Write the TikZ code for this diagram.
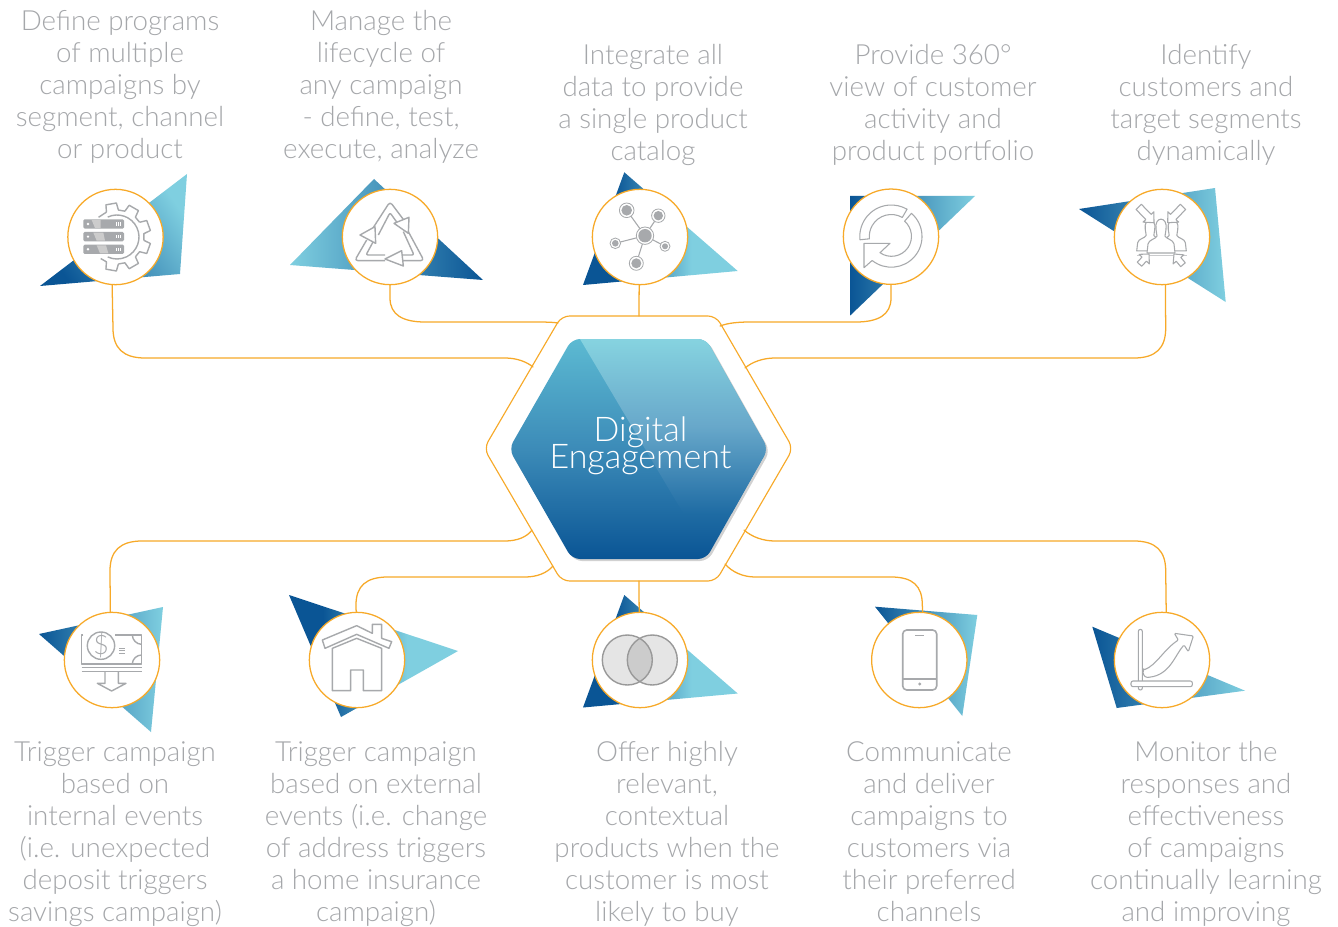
\documentclass[tikz,border=0pt]{standalone}
\usepackage{fontspec}
\setmainfont{Lato}[UprightFont=* Light]
\definecolor{tdark}{HTML}{0A5595}
\definecolor{tlight}{HTML}{7FCFE0}
\definecolor{orangeline}{HTML}{F7A928}
\definecolor{icongray}{HTML}{A7A9AC}
\definecolor{labelgray}{HTML}{A5A7AA}
\definecolor{HexTop}{HTML}{5CBAD2}
\definecolor{HexMid}{HTML}{3C8BB8}
\definecolor{HexBot}{HTML}{0A5595}
\definecolor{HexTopB}{HTML}{86D3E0}
\definecolor{HexMidB}{HTML}{68A8CA}
\definecolor{HexBotB}{HTML}{1F6CA4}
\pgfdeclareverticalshading{tribar}{100bp}{color(0bp)=(tdark);color(35bp)=(tdark);color(60bp)=(tlight);color(100bp)=(tlight)}
\newcommand\tightfont{\fontsize{25.5}{20.25}\selectfont\lineskiplimit=-30pt\relax}
\tikzset{
  conn/.style={draw=orangeline,line width=0.95pt,line cap=round},
  ringnode/.style={circle,draw=orangeline,fill=white,line width=0.95pt,minimum size=71.5pt,inner sep=0pt},
  ico/.style={draw=icongray,line width=1.05pt,line join=round},
  icothin/.style={ico,line width=.8pt},
  lbl/.style={align=center,text=labelgray,font=\fontsize{20.8}{24}\selectfont,inner sep=0pt,execute at begin node=\strut,execute at end node=\strut}
}
\newcommand\tri[4]{\shade[top color=tlight,bottom color=tdark,shading angle=#4] #1 -- #2 -- #3 -- cycle;}
\newcommand\trib[3]{\shade[shading=tribar,shading angle=-90] #1 -- #2 -- #3 -- cycle;}
\newcommand\ringseg[6]{\draw[icothin,fill=white] ([shift={(#1,#2)}]#3:#5) arc[start angle=#3,end angle=#4,radius=#5] -- ([shift={(#1,#2)}]#4:#6) arc[start angle=#4,end angle=#3,radius=#6] -- cycle;}
\newcommand\oarrow[3]{\draw[icothin,fill=white,shift={(#1,#2)},rotate=#3] (0,0) -- (-8,-7.5) -- (-8,-3.7) -- (-22,-3.7) -- (-22,3.7) -- (-8,3.7) -- (-8,7.5) -- cycle;}
\newcommand\sarrow[3]{\draw[icothin,fill=white,shift={(#1,#2)},rotate=#3] (0,0) -- (-7,-7) -- (-7,-3) -- (-14,-3) -- (-14,3) -- (-7,3) -- (-7,7) -- cycle;}
\newcommand\personpath{(-14,31) -- (-13,23) .. controls (-12,19) and (-6,19) .. (-4,16) -- (-5,10) .. controls (-7,-2) and (7,-2) .. (5,10) -- (4,16) .. controls (6,19) and (12,19) .. (13,23) -- (14,31) -- cycle}
\begin{document}
\begin{tikzpicture}[x=.75pt,y=.75pt,yscale=-1]
\useasboundingbox[fill=white] (0,0) rectangle (1338,927);

% triangles
\tri{(187,174)}{(180,274)}{(40,286)}{-55}
\tri{(374,179)}{(290,265)}{(483,280)}{90}
\trib{(624.3,172.3)}{(737.7,271)}{(583,285)}
\tri{(850,196)}{(975,196)}{(850,315.7)}{-90}
\tri{(1079,209)}{(1215,188)}{(1225.7,302)}{-90}
\tri{(39,634)}{(163,607)}{(151,732)}{-90}
\trib{(289,595)}{(458,651)}{(341,717)}
\trib{(624.3,595)}{(737.7,693.5)}{(583,707.5)}
\tri{(875,606.7)}{(977.3,615)}{(962.3,716)}{-90}
\tri{(1092.3,626.7)}{(1245,690.7)}{(1116.7,708)}{-90}

% central hexagons
\fill[black!18,rounded corners=6pt] (574,341) -- (708,341) -- (770,451) -- (708,561) -- (574,561) -- (510,451) -- cycle;
\begin{scope}
\clip[rounded corners=6pt] (572,339) -- (706,339) -- (768,449) -- (706,559) -- (572,559) -- (509,449) -- cycle;
\shade[top color=HexTop,bottom color=HexBot,middle color=HexMid] (500,339) rectangle (780,559);
\shade[top color=HexTopB,bottom color=HexBotB,middle color=HexMidB] (580,339) -- (780,339) -- (780,513) -- (683,513) -- cycle;
\end{scope}
\draw[draw=orangeline,line width=.85pt,rounded corners=6pt] (561.5,316) -- (716,316) -- (793,448.5) -- (716,581) -- (561.5,581) -- (484,448.5) -- cycle;

\coordinate (hTL) at (533,367);
\coordinate (hTLb) at (558,323);
\coordinate (hT) at (639,316);
\coordinate (hTRb) at (720,326);
\coordinate (hTR) at (745,368);
\coordinate (hBL) at (532,530);
\coordinate (hBLb) at (553,566);
\coordinate (hB) at (639,581);
\coordinate (hBRb) at (725,564);
\coordinate (hBR) at (744,530);

\node[ringnode] (c1) at (115.5,237) {};
\node[ringnode] (c2) at (390,237) {};
\node[ringnode] (c3) at (640,237) {};
\node[ringnode] (c4) at (891,236.7) {};
\node[ringnode] (c5) at (1162,237) {};
\node[ringnode] (c6) at (112,660) {};
\node[ringnode] (c7) at (357,660) {};
\node[ringnode] (c8) at (640,660) {};
\node[ringnode] (c9) at (919.3,660) {};
\node[ringnode] (c10) at (1162,660) {};

% connectors
\draw[conn] (c1.266) -- (113,328) .. controls (113,348) and (123,358) .. (145,358) -- (505,358) .. controls (517,358) and (527,362) .. (hTL);
\draw[conn] (c2.south) -- (390,298) .. controls (390,315) and (403,322) .. (425,322) -- (530,322) .. controls (542,322) and (552,322) .. (hTLb);
\draw[conn] (c3.269) -- (hT);
\draw[conn] (c4.south) -- (891,298) .. controls (891,315) and (878,322) .. (856,322) -- (750,322) .. controls (738,322) and (728,323) .. (hTRb);
\draw[conn] (c5.274.4) -- (1165.7,328) .. controls (1165.7,348) and (1156,358) .. (1134,358) -- (775,358) .. controls (763,358) and (752,362) .. (hTR);
\draw[conn] (c6.92) -- (110,571) .. controls (110,551) and (120,541) .. (142,541) -- (505,541) .. controls (517,541) and (527,537) .. (hBL);
\draw[conn] (c7.91) -- (356,605) .. controls (356,586) and (366,577) .. (388,577) -- (525,577) .. controls (537,577) and (547,573) .. (hBLb);
\draw[conn] (c8.91) -- (hB);
\draw[conn] (c9.86.4) -- (922.3,605) .. controls (922.3,586) and (913,577) .. (891,577) -- (755,577) .. controls (743,577) and (732,572) .. (hBRb);
\draw[conn] (c10.85.6) -- (1165.7,571) .. controls (1165.7,551) and (1156,541) .. (1134,541) -- (775,541) .. controls (763,541) and (752,537) .. (hBR);

% centre label
\node[align=center,text=white,inner sep=0pt,font=\tightfont] (hexlabel) at (640.5,446) {Digital\\Engagement};

% icon 1: gear and servers
\begin{scope}[shift={(117,237)}]
\draw[ico] (-115:22) arc[start angle=-115,end angle=115,radius=22];
\draw[ico] (-133:27) -- (-113:27);
\foreach \a in {-100,-60,-20,20,60,100}{
  \draw[ico] (\a-13:27) -- (\a-9:34) -- (\a+9:34) -- (\a+13:27) -- (\a+27:27);
}
\end{scope}
\begin{scope}[shift={(30,170)},scale=1/3]
\foreach \y in {148,186,224}{
  \fill[white] (150,\y-5) rectangle (292,\y+33);
  \fill[icongray,rounded corners=1pt] (160,\y) rectangle (282,\y+28);
  \fill[white] (174,\y+14) circle (4);
  \foreach \xx in {258,264,270}{\fill[white] (\xx,\y+9) rectangle (\xx+3,\y+19);}
}
\fill[black!20] (185,150) -- (212,150) -- (212,174) -- (195,174) -- cycle;
\fill[black!20] (190,188) -- (220,188) -- (225,212) -- (200,212) -- cycle;
\fill[black!20] (200,226) -- (228,226) -- (235,250) -- (210,250) -- cycle;
\end{scope}

% icon 2: recycling triangle
\begin{scope}[shift={(340,190)},scale=1/3]
\draw[ico,rounded corners=2.5pt] (92,125) -- (150,35) -- (195,95);
\draw[ico,rounded corners=1.5pt] (115,135) -- (150,68) -- (180,110);
\draw[ico,rounded corners=2.5pt] (205,125) -- (252,212) -- (185,212);
\draw[ico,rounded corners=1.5pt] (190,125) -- (222,195) -- (185,195);
\draw[ico,rounded corners=2.5pt] (135,212) -- (44,212) -- (80,150);
\draw[ico,rounded corners=1.5pt] (135,195) -- (78,195) -- (105,145);
\draw[ico,fill=white] (207,82) -- (162,100) -- (205,130) -- cycle;
\draw[ico,fill=white] (185,182) -- (135,207) -- (190,228) -- cycle;
\draw[ico,fill=white] (60,135) -- (105,110) -- (107,160) -- cycle;
\end{scope}

% icon 3: network
\begin{scope}[shift={(645,235.7)}]
\foreach \x/\y/\r in {-18.3/-25.4/5.3,13.3/-20/4.7,-29.7/7.6/3.3,20/10.6/3,-8.7/27.6/5}{
  \draw[icongray,line width=.8pt] (0,0) -- (\x,\y);
  \fill[white] (\x,\y) circle (\r+2);
  \draw[icongray,line width=.6pt] (\x,\y) circle (\r+2);
  \fill[icongray] (\x,\y) circle (\r);
}
\fill[white] (0,0) circle (8.7);
\draw[icongray,line width=.6pt] (0,0) circle (8.7);
\fill[icongray] (0,0) circle (6.7);
\end{scope}

% icon 4: circular arrows
\ringseg{891.3}{236.5}{-186}{-60}{31.5}{22}
\draw[icothin,fill=white] ([shift={(891.3,236.5)}]-49:30.7) arc[start angle=-49,end angle=128.6,radius=30.7] -- (864,267.7) -- (864,243.3) -- (890,243.3) -- (880,252.7) arc[start angle=125,end angle=-49,radius=20] -- cycle;

% icon 5: people with arrows
\begin{scope}[shift={(1150,219)},xscale=.95,yscale=1.03]\draw[icothin,fill=white] \personpath;\end{scope}
\begin{scope}[shift={(1173,219)},xscale=.95,yscale=1.03]\draw[icothin,fill=white] \personpath;\end{scope}
\begin{scope}[shift={(1161,218)},yscale=1.13]\draw[icothin,fill=white] \personpath;\end{scope}
\oarrow{1154}{222.7}{46}
\oarrow{1167.7}{222.7}{134}
\draw[icongray!60,line width=.6pt] (1137,255) -- (1187,255);
\sarrow{1149}{254}{-47}
\sarrow{1174}{254}{-130}

% icon 6: money
\begin{scope}[shift={(30,590)},scale=1/3]
\draw[ico] (160,135) -- (155,135) -- (155,222) -- (335,222) -- (335,135) -- (255,135);
\draw[ico] (213,167) circle (41);
\draw[ico] (307,135) .. controls (307,150) and (320,163) .. (335,163);
\draw[ico] (307,222) .. controls (307,207) and (320,195) .. (335,195);
\draw[ico] (268,175) -- (285,175) (268,182) -- (285,182) (268,190) -- (285,190);
\draw[ico] (155,233) -- (335,233) (155,245) -- (335,245);
\draw[ico] (225,245) -- (225,280) -- (202,280) -- (245,303) -- (288,280) -- (265,280) -- (265,245);
\node[text=icongray,inner sep=0pt,font=\fontsize{20}{20}\selectfont] (dollar) at (213,167) {\$};
\end{scope}

% icon 7: house
\begin{scope}[shift={(30,590)},scale=1/3]
\draw[ico] (877,150) -- (980,107) -- (1027,130) -- (1027,103) -- (1055,103) -- (1055,145) -- (1085,155) -- (1077,175) -- (980,133) -- (885,175) -- cycle;
\draw[ico] (907,175) -- (980,145) -- (1055,175) -- (1055,302) -- (1000,302) -- (1000,240) -- (962,240) -- (962,302) -- (907,302) -- cycle;
\end{scope}

% icon 8: venn
\fill[black!10] (627.3,660) circle (25);
\fill[black!10] (652.3,660) circle (25);
\begin{scope}
\clip (627.3,660) circle (25);
\fill[black!20] (652.3,660) circle (25);
\end{scope}
\draw[ico,draw=black!40] (627.3,660) circle (25);
\draw[ico,draw=black!40] (652.3,660) circle (25);

% icon 9: phone
\draw[ico,line width=1.2pt,rounded corners=3pt] (902.7,630) rectangle (936.7,690);
\draw[ico,line width=1.2pt] (915,635.3) -- (924.3,635.3);
\draw[ico,line width=1.2pt] (902.7,679) -- (936.7,679);
\fill[icongray] (919.7,684) circle (1.7);

% icon 10: chart
\begin{scope}[shift={(1085,600)},scale=1/3]
\draw[icothin,rounded corners=1.5pt,fill=white] (160,88) rectangle (172,270);
\draw[icothin,rounded corners=1.5pt,fill=white] (138,243) rectangle (322,260);
\draw[icothin,fill=white,rounded corners=.8pt] (176,210) .. controls (215,195) and (235,150) .. (280,120) -- (268,100) -- (325,108) -- (310,155) -- (297,135) .. controls (270,165) and (255,225) .. (190,232) .. controls (178,232) and (172,220) .. (176,210) -- cycle;
\end{scope}

% labels
\node[lbl] (t1) at (120,89) {Define programs\\of multiple\\campaigns by\\segment, channel\\or product};
\node[lbl] (t2) at (381,89) {Manage the\\lifecycle of\\any campaign\\- define, test,\\execute, analyze};
\node[lbl] (t3) at (653,107) {Integrate all\\data to provide\\a single product\\catalog};
\node[lbl] (t4) at (933,107) {Provide 360°\\view of customer\\activity and\\product portfolio};
\node[lbl] (t5) at (1206,107) {Identify\\customers and\\target segments\\dynamically};
\node[lbl] (t6) at (115,836) {Trigger campaign\\based on\\internal events\\(i.e. unexpected\\deposit triggers\\savings campaign)};
\node[lbl] (t7) at (376,836) {Trigger campaign\\based on external\\events (i.e. change\\of address triggers\\a home insurance\\campaign)};
\node[lbl] (t8) at (667,836) {Offer highly\\relevant,\\contextual\\products when the\\customer is most\\likely to buy};
\node[lbl] (t9) at (929,836) {Communicate\\and deliver\\campaigns to\\customers via\\their preferred\\channels};
\node[lbl] (t10) at (1206,836) {Monitor the\\responses and\\effectiveness\\of campaigns\\continually learning\\and improving};
\end{tikzpicture}
\end{document}
